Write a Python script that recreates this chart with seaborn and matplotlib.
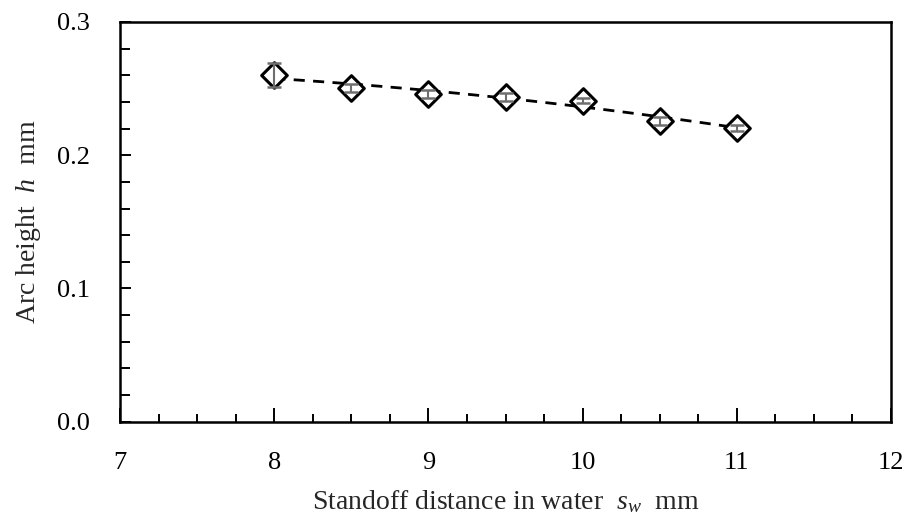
import numpy as np
import pandas as pd
import matplotlib
matplotlib.use("Agg")
import matplotlib.pyplot as plt
import seaborn as sns
from matplotlib.ticker import MultipleLocator, FormatStrFormatter

# Arc height measured for each standoff distance in water
standoff = [8.0, 8.5, 9.0, 9.5, 10.0, 10.5, 11.0]
arc_height = [0.260, 0.2505, 0.246, 0.244, 0.241, 0.226, 0.2205]
arc_err = [0.009, 0.003, 0.003, 0.003, 0.002, 0.003, 0.002]

df = pd.DataFrame({"sw": standoff, "h": arc_height, "err": arc_err})

sns.set_theme(style="white")
plt.rcParams["font.family"] = ["Liberation Serif", "DejaVu Serif"]
plt.rcParams["mathtext.fontset"] = "custom"
plt.rcParams["mathtext.rm"] = "Liberation Serif"
plt.rcParams["mathtext.it"] = "Liberation Serif:italic"

fig, ax = plt.subplots(figsize=(9.1, 5.22), dpi=100)
fig.subplots_adjust(left=0.132, right=0.979, top=0.958, bottom=0.192)

# quadratic trend line through the measurements
coef = np.polyfit(df["sw"], df["h"], 2)
xs = np.linspace(df["sw"].min(), df["sw"].max(), 100)
trend = pd.DataFrame({"sw": xs, "h": np.polyval(coef, xs)})
sns.lineplot(data=trend, x="sw", y="h", ax=ax, color="black",
             linestyle=(0, (4, 3)), linewidth=2, zorder=2)

sns.scatterplot(data=df, x="sw", y="h", ax=ax, marker="D", s=170,
                facecolor="white", edgecolor="black", linewidth=2.2, zorder=4)
ax.errorbar(df["sw"], df["h"], yerr=df["err"], fmt="none",
            ecolor="#6e6e6e", elinewidth=1.5, capsize=5, capthick=1.8, zorder=5)

ax.set_xlim(7, 12)
ax.set_ylim(0, 0.3)
ax.xaxis.set_major_locator(MultipleLocator(1))
ax.xaxis.set_minor_locator(MultipleLocator(0.25))
ax.yaxis.set_major_locator(MultipleLocator(0.1))
ax.yaxis.set_minor_locator(MultipleLocator(0.02))
ax.yaxis.set_major_formatter(FormatStrFormatter("%.1f"))

ax.tick_params(which="both", direction="in", colors="black", labelsize=19,
               bottom=True, left=True, top=False, right=False, width=1.4)
ax.tick_params(axis="x", which="major", length=10, pad=22)
ax.tick_params(axis="x", which="minor", length=6)
ax.tick_params(axis="y", which="major", length=8, pad=22)
ax.tick_params(axis="y", which="minor", length=7)

for sp in ax.spines.values():
    sp.set_color("black")
    sp.set_linewidth(1.8)

ax.set_xlabel(r"Standoff distance in water  $s_w$  mm", fontsize=20, labelpad=10)
ax.set_ylabel(r"Arc height  $h$  mm", fontsize=20, labelpad=10)

fig.savefig("out.png", dpi=100)
